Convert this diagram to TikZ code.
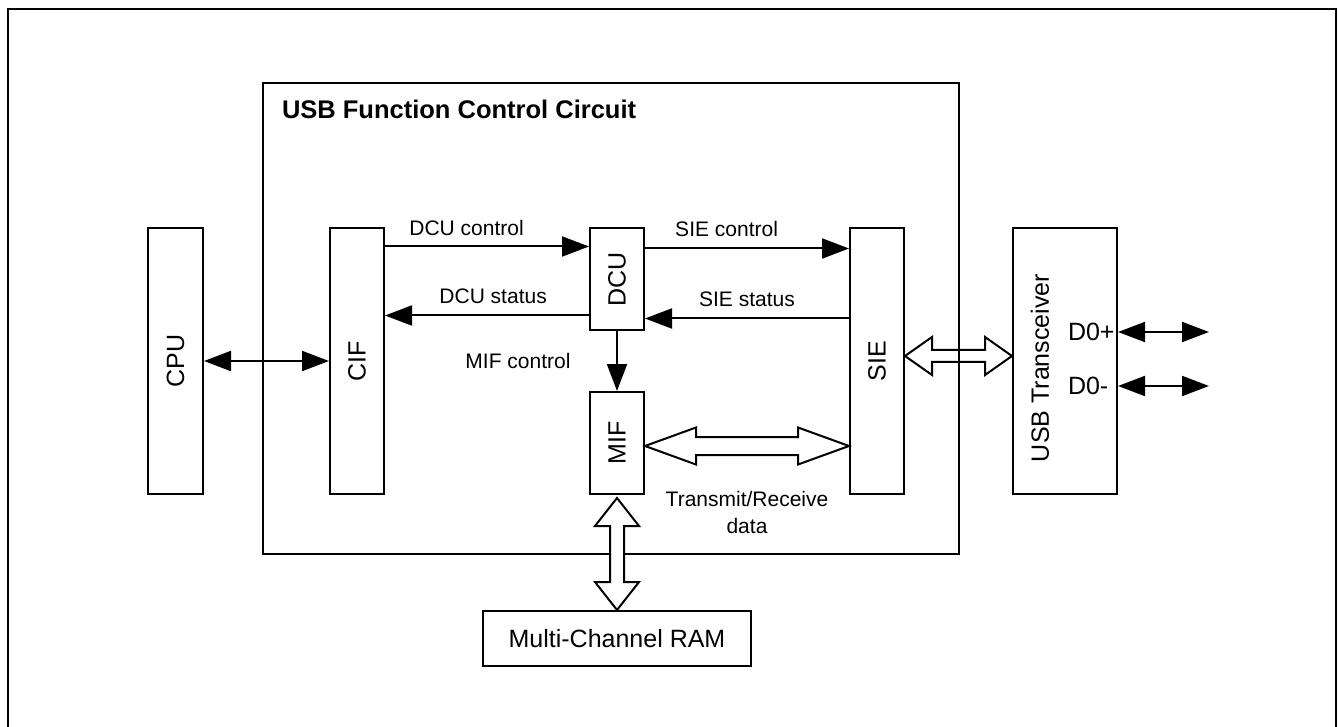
\documentclass[tikz,border=0pt]{standalone}
\usepackage{fontspec}
\setmainfont{Liberation Sans}
\usepackage{graphicx}
\usetikzlibrary{arrows.meta,positioning,calc}

\tikzset{
  blk/.style={draw, minimum width=27pt, inner sep=0pt, on grid, font=\fontsize{12.5}{15}\selectfont},
  tallblk/.style={blk, minimum height=133pt},
  shortblk/.style={blk, minimum height=51pt},
  txt/.style={font=\fontsize{12.5}{15}\selectfont, inner sep=0pt},
  lbl/.style={font=\fontsize{10.5}{13.5}\selectfont, inner sep=0pt, anchor=center},
  title/.style={font=\bfseries\fontsize{12.75}{15}\selectfont, inner sep=0pt},
  bus/.style={draw, fill=white, line join=miter},
}

% hollow double arrows: start, end, head length, head half width, shaft half width
\newcommand\hbus[5]{%
  \draw[bus] let \p1=#1, \p2=#2 in
    (\x1,\y1) -- (\x1+#3,\y1+#4) -- (\x1+#3,\y1+#5) -- (\x2-#3,\y1+#5)
    -- (\x2-#3,\y1+#4) -- (\x2,\y1) -- (\x2-#3,\y1-#4) -- (\x2-#3,\y1-#5)
    -- (\x1+#3,\y1-#5) -- (\x1+#3,\y1-#4) -- cycle;}
\newcommand\vbus[5]{%
  \draw[bus] let \p1=#1, \p2=#2 in
    (\x1,\y1) -- (\x1+#4,\y1-#3) -- (\x1+#5,\y1-#3) -- (\x1+#5,\y2+#3)
    -- (\x1+#4,\y2+#3) -- (\x1,\y2) -- (\x1-#4,\y2+#3) -- (\x1-#5,\y2+#3)
    -- (\x1-#5,\y1-#3) -- (\x1-#4,\y1-#3) -- cycle;}

\begin{document}
\begin{tikzpicture}[>={Triangle[length=13.5pt,width=10pt]}, line width=1pt]
  \useasboundingbox (0,0) rectangle (669.5pt,-363.5pt);
  \draw[line width=1.2pt] (4pt,-365pt) -- (4pt,-4.5pt) -- (668pt,-4.5pt) -- (668pt,-365pt);

  \node[tallblk, minimum width=27.5pt] (cpu) at (87.75pt,-180.5pt) {\rotatebox{90}{CPU}};
  \node[tallblk, right=90.75pt of cpu] (cif) {\rotatebox{90}{CIF}};
  \node[shortblk, above right=40.75pt and 130pt of cif] (dcu) {\rotatebox{90}{DCU}};
  \node[shortblk, below=81.75pt of dcu] (mif) {\rotatebox{90}{MIF}};
  \node[tallblk, right=260pt of cif] (sie) {\rotatebox{90}{SIE}};
  \node[tallblk, minimum width=52pt, right=94pt of sie] (xcvr) {};
  \node[blk, minimum width=134pt, minimum height=27.5pt, below=97.75pt of mif] (ram) {Multi-Channel RAM};

  \node[txt] (xcvrname) at ([xshift=-12.5pt,yshift=-3.5pt]xcvr.center) {\rotatebox{90}{USB Transceiver}};
  \node[txt, anchor=west] (dp) at ([xshift=-25.5pt,yshift=14.5pt]xcvr.east) {D0+};
  \node[txt, anchor=west] (dm) at ([xshift=-25.5pt,yshift=-12.5pt]xcvr.east) {D0-};

  \coordinate (dcuin) at ([yshift=-9.5pt]dcu.north west);
  \coordinate (dcuback) at ([yshift=8pt]dcu.south west);
  \coordinate (siectl) at ([yshift=-10.5pt]dcu.north east);
  \coordinate (siestat) at ([yshift=6.5pt]dcu.south east);
  \coordinate (dpin) at (xcvr.east |- dp);
  \coordinate (dpout) at ([xshift=45.5pt]dpin);
  \coordinate (dmin) at (xcvr.east |- dm);
  \coordinate (dmout) at ([xshift=45.5pt]dmin);

  \path[->]
    (cpu) edge[<->] (cif)
    (cif.east |- dcuin) edge node[lbl, pos=.4, yshift=9.5pt] {DCU control} (dcuin)
    (dcuback) edge node[lbl, pos=.47, yshift=9.5pt] {DCU status} (cif.east |- dcuback)
    (siectl) edge node[lbl, pos=.4, yshift=10pt] {SIE control} (sie.west |- siectl)
    (sie.west |- siestat) edge node[lbl, midway, yshift=9.5pt] {SIE status} (siestat)
    (dcu) edge node[lbl, midway, xshift=-49.5pt] {MIF control} (mif)
    (dpin) edge[<->] (dpout)
    (dmin) edge[<->] (dmout);

  \node[lbl, align=center] (txrx) at ($(mif.south)!.5!(sie.south)+(0,-8.75pt)$) {Transmit/Receive\\data};

  \hbus{([yshift=-1.5pt]mif.east)}{(sie.west)}{25.5pt}{9.25pt}{4.5pt}
  \hbus{([yshift=2.5pt]sie.east)}{(xcvr.west)}{13.5pt}{9.5pt}{3pt}

  \node[draw, minimum width=348pt, minimum height=235.5pt, inner sep=0pt] (ufcc) at (305.5pt,-159.25pt) {};
  \node[title, anchor=west] (ttl) at ([xshift=9.5pt,yshift=-13.5pt]ufcc.north west) {USB Function Control Circuit};

  \vbus{([yshift=-1.5pt]mif.south)}{(ram.north)}{14pt}{11pt}{3.5pt}
\end{tikzpicture}
\end{document}
